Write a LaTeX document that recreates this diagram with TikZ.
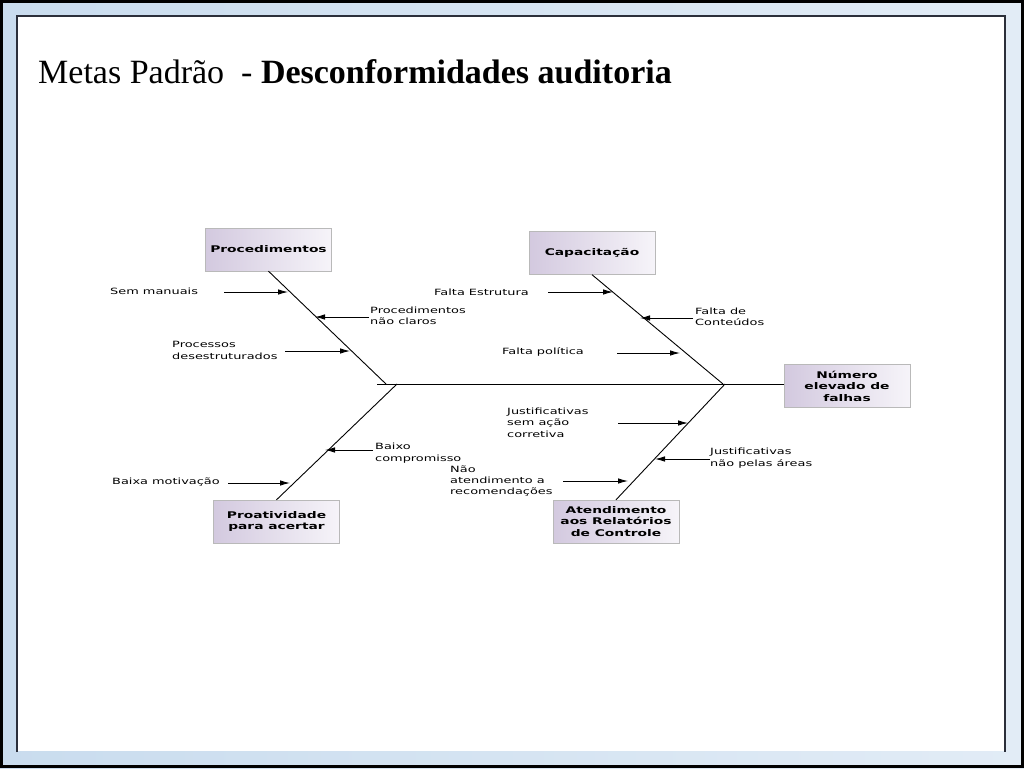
\documentclass[tikz,border=0pt]{standalone}
\usepackage{fontspec}
\setmainfont{Liberation Serif}
\newfontfamily\lblfont[FakeStretch=1.5]{DejaVu Sans}
\usetikzlibrary{shapes,arrows,arrows.meta}
\definecolor{boxleft}{HTML}{D3C9DF}
\definecolor{boxright}{HTML}{F6F4F9}
\definecolor{slideblue}{HTML}{C9DCEE}
\definecolor{slidelight}{HTML}{E2ECF6}
\definecolor{framedark}{HTML}{2B2F3A}
\tikzset{
  cause/.style={draw=gray!55,left color=boxleft,right color=boxright,
    minimum width=126pt,minimum height=43pt,inner sep=2pt,align=center,
    font=\lblfont\bfseries\fontsize{9.2}{11.5}\selectfont},
  lbl/.style={anchor=west,inner sep=0pt,align=left,
    font=\lblfont\fontsize{8.6}{11.3}\selectfont},
  sub/.style={-{Latex[length=10pt,width=5.5pt]},line width=0.9pt},
  bone/.style={line width=0.9pt}
}
\begin{document}
\begin{tikzpicture}[x=1pt,y=-1pt]
% slide
\useasboundingbox (0,0) rectangle (1024,768);
\fill[left color=slideblue,right color=slidelight] (0,0) rectangle (1024,768);
\draw[black,line width=3pt] (1.5,1.5) rectangle (1022.5,766.5);
\fill[white] (17,16) rectangle (1005,751);
\draw[framedark,line width=2pt] (17,752) -- (17,16) -- (1005,16) -- (1005,752);
\node[anchor=base west,inner sep=0pt,font=\fontsize{34}{40}\selectfont] (title) at (38,83)
  {Metas Padrão~ - \textbf{Desconformidades auditoria}};

% causes and effect
\node[cause] (P) at (268.5,249.5) {Procedimentos};
\node[cause] (C) at (592,253) {Capacitação};
\node[cause] (N) at (847,386) {Número\\elevado de\\falhas};
\node[cause] (PA) at (276.5,521.5) {Proatividade\\para acertar};
\node[cause] (AR) at (616,521.5) {Atendimento\\aos Relatórios\\de Controle};

% spine and bones
\coordinate (s0) at (377,384);
\coordinate (ul) at (386,384);
\coordinate (ll) at (397,384);
\coordinate (ur) at (723,384);
\coordinate (lr) at (725,384);
\path[bone]
  (s0) edge (s0 -| N.west)
  (P.south) edge (ul)
  (ll) edge (PA.north)
  (C.south) edge (ur)
  (lr) edge (AR.north)
;

% labels
\node[lbl] (l1) at (110,291) {Sem manuais};
\node[lbl] (l2) at (370,316) {Procedimentos\\não claros};
\node[lbl] (l3) at (172,350.5) {Processos\\desestruturados};
\node[lbl] (l4) at (434,292) {Falta Estrutura};
\node[lbl] (l5) at (695,317) {Falta de\\Conteúdos};
\node[lbl] (l6) at (502,352) {Falta política};
\node[lbl] (l7) at (507,422.5) {Justificativas\\sem ação\\corretiva};
\node[lbl] (l8) at (710,458) {Justificativas\\não pelas áreas};
\node[lbl] (l9) at (450,481) {Não\\atendimento a\\recomendações};
\node[lbl] (l10) at (375,453) {Baixo\\compromisso};
\node[lbl] (l11) at (112,481.5) {Baixa motivação};

% sub-causes
\coordinate (a1) at (224,292);  \coordinate (t1) at (288,292);
\coordinate (a2) at (369,317);  \coordinate (t2) at (315,317);
\coordinate (a3) at (285,351);  \coordinate (t3) at (350,351);
\coordinate (a4) at (548,292);  \coordinate (t4) at (613,292);
\coordinate (a5) at (693,318);  \coordinate (t5) at (640,318);
\coordinate (a6) at (617,353);  \coordinate (t6) at (680,353);
\coordinate (a7) at (618,423);  \coordinate (t7) at (688,423);
\coordinate (a8) at (710,459);  \coordinate (t8) at (655,459);
\coordinate (a9) at (563,481);  \coordinate (t9) at (628,481);
\coordinate (a10) at (373,450); \coordinate (t10) at (325,450);
\coordinate (a11) at (228,483); \coordinate (t11) at (290,483);
\path[sub]
  (a1) edge (t1)
  (a2) edge (t2)
  (a3) edge (t3)
  (a4) edge (t4)
  (a5) edge (t5)
  (a6) edge (t6)
  (a7) edge (t7)
  (a8) edge (t8)
  (a9) edge (t9)
  (a10) edge (t10)
  (a11) edge (t11)
;
\end{tikzpicture}
\end{document}
